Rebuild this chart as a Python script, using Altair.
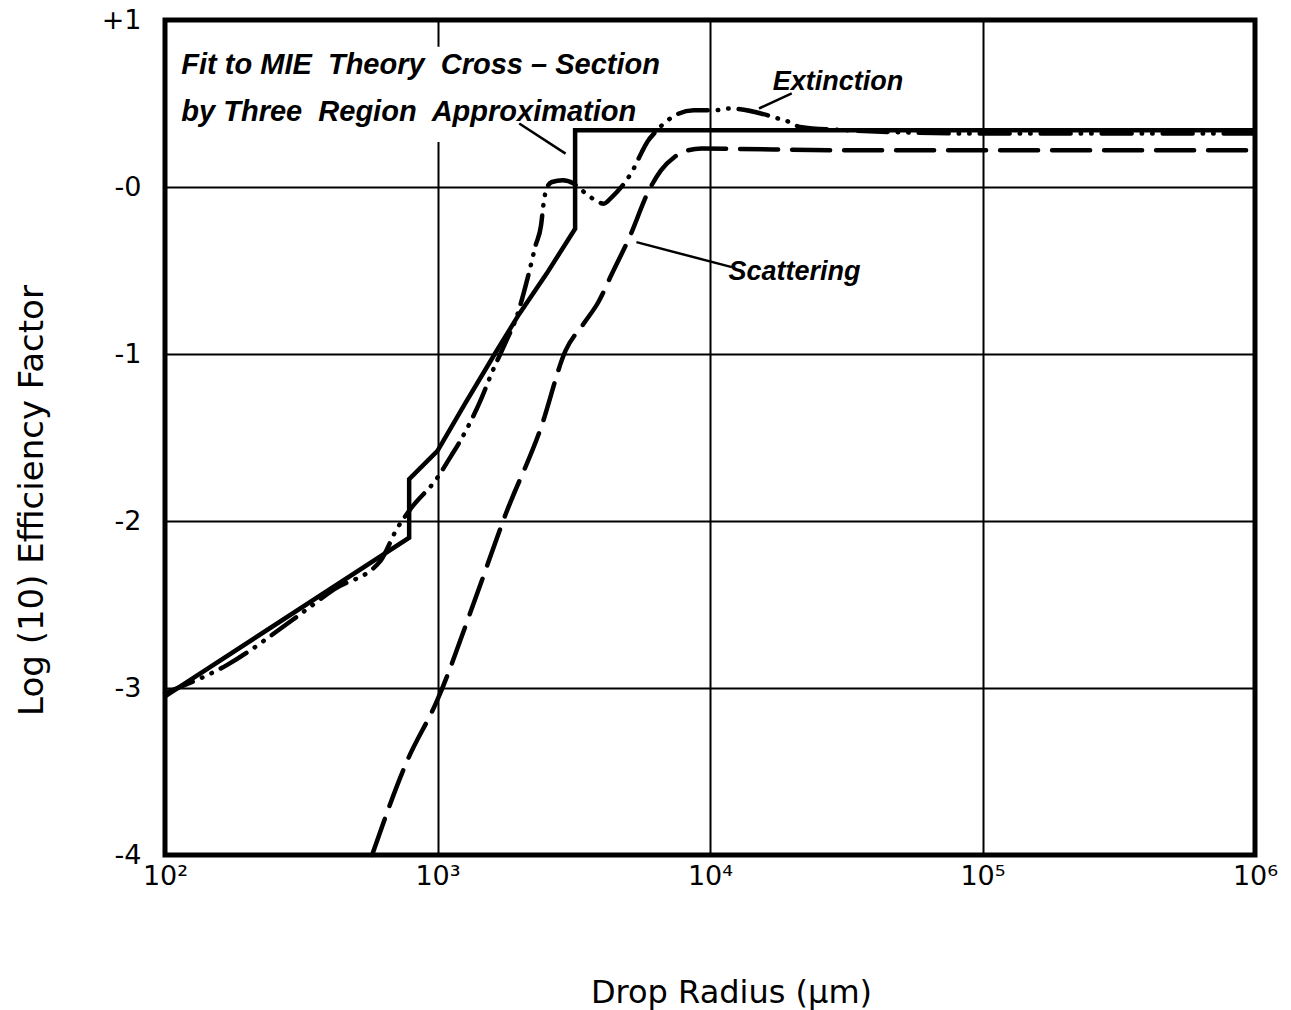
import altair as alt
import pandas as pd

# Drop radius is stored as log10(radius in micrometres); y is log10 of the efficiency factor.

# Three-region approximation (solid)
approx_lx = [2.0, 2.896, 2.896, 3.0, 3.1, 3.21, 3.3, 3.4, 3.505, 3.505, 6.0]
approx_ly = [-3.05, -2.10, -1.75, -1.58, -1.30, -1.00, -0.76, -0.52, -0.25, 0.34, 0.34]

# Mie extinction (dash-dot-dot)
ext_lx = [2.0, 2.23, 2.47, 2.62, 2.79, 2.85, 2.90, 3.0, 3.05, 3.08, 3.16, 3.2, 3.25,
          3.29, 3.33, 3.36, 3.38, 3.39, 3.40, 3.42, 3.46, 3.50, 3.53, 3.58, 3.61,
          3.64, 3.72, 3.75, 3.77, 3.80, 3.845, 3.94, 4.02, 4.07, 4.21, 4.25, 4.29,
          4.33, 4.5, 5.0, 5.5, 6.0]
ext_ly = [-3.03, -2.86, -2.59, -2.41, -2.24, -2.05, -1.93, -1.74, -1.61, -1.53,
          -1.27, -1.11, -0.93, -0.78, -0.55, -0.35, -0.23, -0.09, -0.01, 0.03, 0.04,
          0.02, -0.02, -0.08, -0.10, -0.06, 0.11, 0.21, 0.27, 0.33, 0.40, 0.46, 0.46,
          0.47, 0.43, 0.41, 0.39, 0.36, 0.34, 0.32, 0.32, 0.32]

# Mie scattering (dashed)
sca_lx = [2.76, 2.885, 3.0, 3.14, 3.25, 3.38, 3.47, 3.54, 3.59, 3.64, 3.71, 3.77,
          3.82, 3.87, 3.92, 3.97, 4.5, 5.0, 5.5, 6.0]
sca_ly = [-4.0, -3.45, -3.07, -2.46, -1.96, -1.44, -0.98, -0.81, -0.69, -0.52,
          -0.28, -0.04, 0.10, 0.18, 0.22, 0.23, 0.22, 0.22, 0.22, 0.22]

x_tick_values = [2, 3, 4, 5, 6]
x_tick_labels = ["10²", "10³", "10⁴", "10⁵", "10⁶"]
y_tick_values = [-4, -3, -2, -1, 0, 1]
y_tick_labels = ["-4", "-3", "-2", "-1", "-0", "+1"]

# Annotation texts and leader lines (data coordinates)
NB = "\u00a0"
notes_text = [
    f"Fit to MIE{NB} Theory{NB} Cross{NB}–{NB}Section",
    f"by Three{NB} Region{NB} Approximation",
]
notes_lx = [2.06, 2.06]
notes_ly = [0.73, 0.45]
# blank strip behind the caption where the grid line is interrupted
caption_gap = {"x1": 2.93, "x2": 3.07, "y1": 0.27, "y2": 0.84}
curve_names = ["Extinction", "Scattering"]
curve_name_lx = [4.47, 4.31]
curve_name_ly = [0.63, -0.51]
leader_x1 = [3.30, 4.30, 3.73]
leader_y1 = [0.38, 0.56, -0.33]
leader_x2 = [3.47, 4.18, 4.08]
leader_y2 = [0.20, 0.47, -0.48]


def frame(xs, ys):
    return pd.DataFrame({"lx": xs, "ly": ys, "i": list(range(len(xs)))})


x_label_expr = "[" + ",".join(f"'{t}'" for t in x_tick_labels) + "][datum.value - 2]"
y_label_expr = "[" + ",".join(f"'{t}'" for t in y_tick_labels) + "][datum.value + 4]"

font = "DejaVu Sans"
ital_font = "Liberation Sans"

x_enc = alt.X(
    "lx:Q",
    scale=alt.Scale(domain=[2, 6], nice=False, zero=False),
    axis=alt.Axis(
        values=x_tick_values, labelExpr=x_label_expr, grid=True, gridColor="black",
        gridWidth=2, gridOpacity=1, ticks=False, domain=False, labelFontSize=27,
        labelFont=font, labelColor="black", labelPadding=8, labelFlush=False,
        title="Drop Radius (μm)", titleFont=font, titleFontSize=32,
        titleFontWeight="normal", titleColor="black",
        titleX=566, titleY=137, titleBaseline="middle", titleAlign="center",
    ),
)
y_enc = alt.Y(
    "ly:Q",
    scale=alt.Scale(domain=[-4, 1], nice=False, zero=False),
    axis=alt.Axis(
        values=y_tick_values, labelExpr=y_label_expr, grid=True, gridColor="black",
        gridWidth=2, gridOpacity=1, ticks=False, domain=False, labelFontSize=27,
        labelFont=font, labelColor="black", labelPadding=24, labelFlush=False,
        title="Log (10) Efficiency Factor", titleFont=font, titleFontSize=34,
        titleFontWeight="normal", titleColor="black",
        titleX=-133, titleY=480, titleAngle=270, titleBaseline="middle",
        titleAlign="center",
    ),
)

approx = alt.Chart(frame(approx_lx, approx_ly)).mark_line(
    color="black", strokeWidth=4.5, strokeJoin="miter"
).encode(x=x_enc, y=y_enc, order="i:Q")

gap = alt.Chart(pd.DataFrame([caption_gap])).mark_rect(color="white", opacity=1).encode(
    x="x1:Q", x2="x2:Q", y="y1:Q", y2="y2:Q"
)

extinction = alt.Chart(frame(ext_lx, ext_ly)).mark_line(
    color="black", strokeWidth=4.5, strokeCap="round", interpolate="monotone",
    strokeDash=[30, 10, 0.5, 10, 0.5, 10],
).encode(x="lx:Q", y="ly:Q", order="i:Q")

scattering = alt.Chart(frame(sca_lx, sca_ly)).mark_line(
    color="black", strokeWidth=4.5, strokeCap="round", interpolate="monotone",
    strokeDash=[38, 14],
).encode(x="lx:Q", y="ly:Q", order="i:Q")

leaders = alt.Chart(pd.DataFrame({
    "x1": leader_x1, "y1": leader_y1, "x2": leader_x2, "y2": leader_y2,
})).mark_rule(color="black", strokeWidth=2.5).encode(
    x="x1:Q", y="y1:Q", x2="x2:Q", y2="y2:Q"
)

notes = alt.Chart(pd.DataFrame({
    "t": notes_text, "lx": notes_lx, "ly": notes_ly,
})).mark_text(
    align="left", baseline="middle", font=ital_font, fontSize=29,
    fontStyle="italic", fontWeight="bold", color="black",
).encode(x="lx:Q", y="ly:Q", text="t:N")

names = alt.Chart(pd.DataFrame({
    "t": curve_names, "lx": curve_name_lx, "ly": curve_name_ly,
})).mark_text(
    align="center", baseline="middle", font=ital_font, fontSize=27,
    fontStyle="italic", fontWeight="bold", color="black",
).encode(x="lx:Q", y="ly:Q", text="t:N")

chart = alt.layer(approx, gap, extinction, scattering, leaders, notes, names).properties(
    width=1090,
    height=835,
    autosize=alt.AutoSizeParams(type="none"),
    padding={"left": 165, "top": 20, "right": 36, "bottom": 155},
    background="white",
).configure_view(stroke="black", strokeWidth=5)

chart.save("out.html", embed_options={"renderer": "svg", "actions": False})
